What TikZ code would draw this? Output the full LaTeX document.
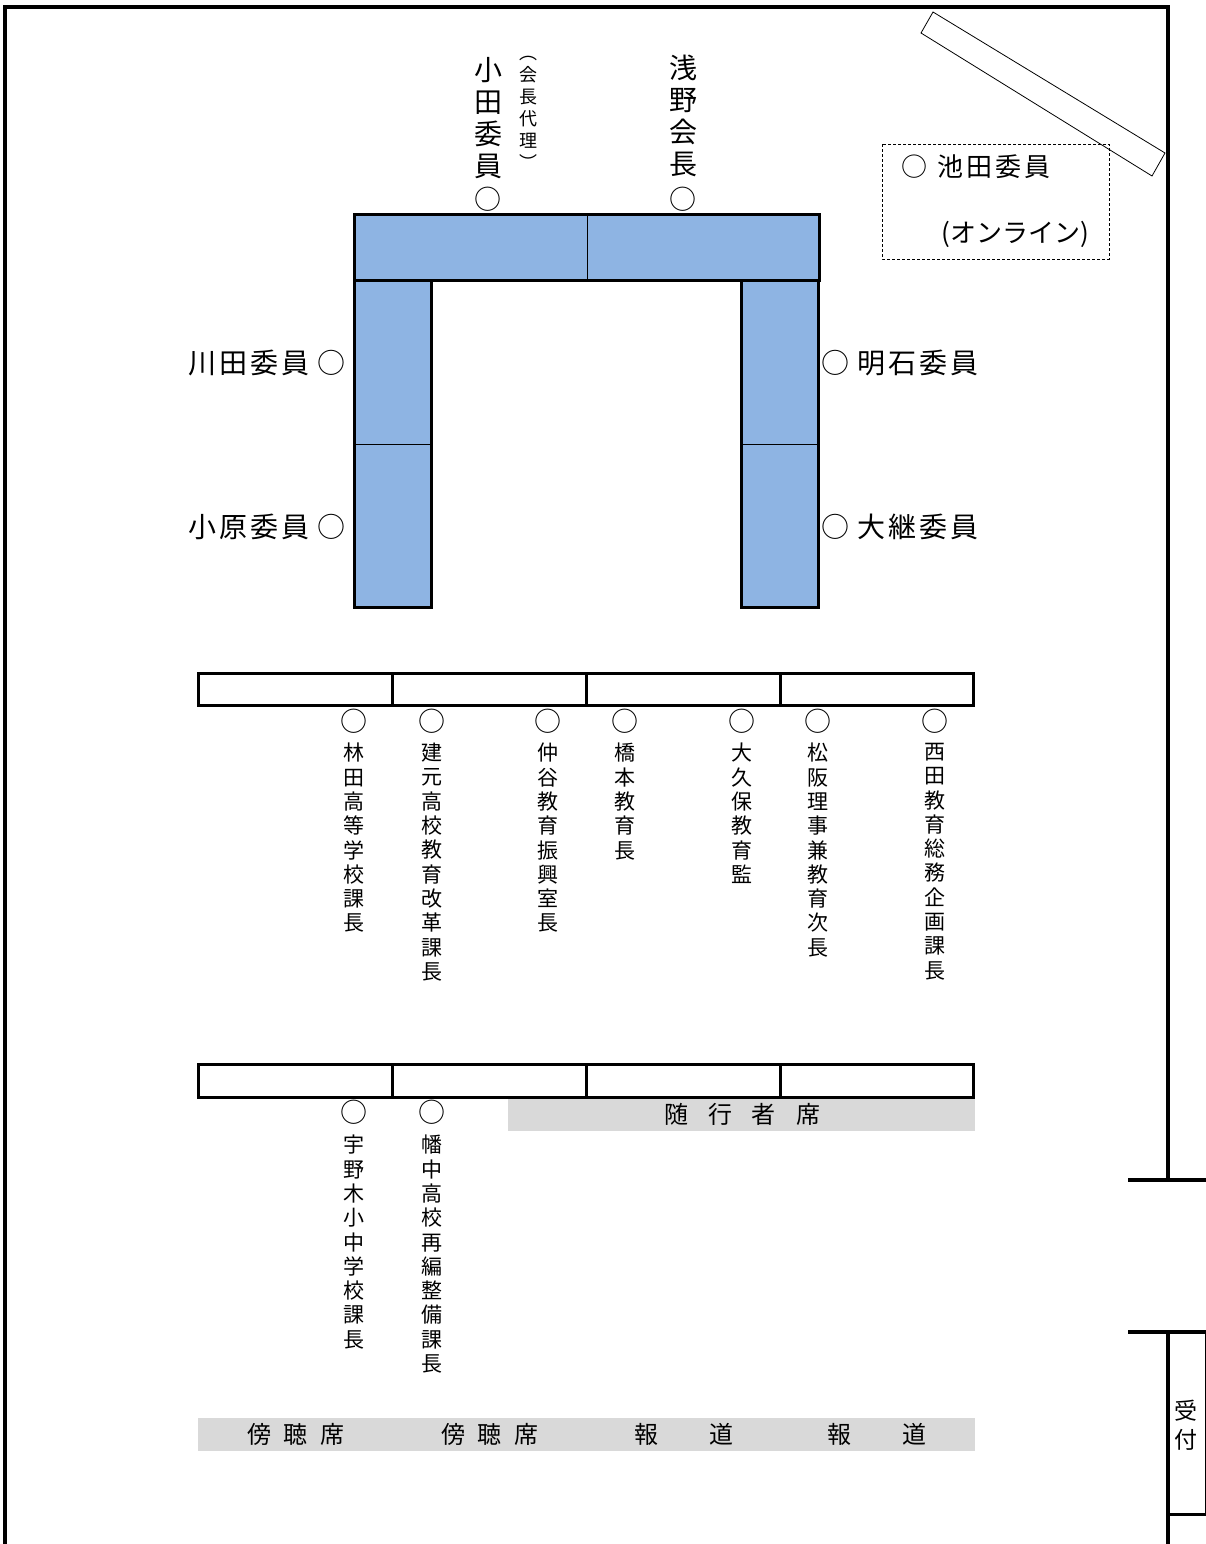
\documentclass[tikz,border=0pt]{standalone}
\usepackage{fontspec}
\setmainfont{Noto Sans CJK JP}
\newcommand\ks{\kern3pt}
\begin{document}
\begin{tikzpicture}[x=1pt,y=-1pt,
  wall/.style={line width=3.6pt},
  thk/.style={line width=3pt},
  thn/.style={line width=0.8pt},
  desk/.style={thk, fill=deskblue},
  bar/.style={fill=barGray, draw=none},
  hlab/.style={inner sep=0pt, font=\fontsize{28}{32}\selectfont},
  toplab/.style={inner sep=0pt, align=center, anchor=north, font=\fontsize{28}{32}\selectfont},
  subtop/.style={inner sep=0pt, align=center, anchor=north, font=\fontsize{18}{22}\selectfont},
  vlab/.style={inner sep=0pt, align=center, anchor=north, font=\fontsize{21}{24.3}\selectfont},
  seat/.style={inner sep=0pt, font=\fontsize{27}{27}\selectfont},
  bartext/.style={inner sep=0pt, font=\fontsize{24}{24}\selectfont}
]
\definecolor{deskblue}{HTML}{8EB4E3}
\definecolor{barGray}{HTML}{D9D9D9}
\useasboundingbox (0,0) rectangle (1206,1544);

% ---- walls ----
\draw[wall] (5,1546) -- (5,7) -- (1168,7) -- (1168,1180);
\draw[wall] (1128,1180) -- (1206,1180);
\draw[wall] (1128,1332) -- (1206,1332);
\draw[wall] (1168,1332) -- (1168,1546);
% reception
\draw[thn] (1205,1332) -- (1205,1514);
\draw[thk] (1168,1514) -- (1206,1514);
\node[inner sep=0pt, align=center, font=\fontsize{23}{29}\selectfont] (uketsuke) at (1186,1425) {受\\付};

% ---- screen (diagonal) ----
\draw[thn] (933,12) -- (1165,153) -- (1152,176) -- (921,33) -- cycle;

% ---- online box ----
\draw[thn, densely dashed] (882,144) rectangle (1109,259);
\node[hlab, anchor=west, font=\fontsize{26}{30}\selectfont] (ikeda) at (901,167) {○\kern10pt 池\ks 田\ks 委\ks 員};
\node[hlab, anchor=west, font=\fontsize{26}{30}\selectfont] (online) at (941,234) {(オンライン)};

% ---- U-shaped table ----
\draw[desk] (354,214) rectangle (819,280);
\draw[desk] (354,280) rectangle (431,607);
\draw[desk] (741,280) rectangle (818,607);
\draw[thn] (587,214) -- (587,280);
\draw[thn] (354,444) -- (431,444);
\draw[thn] (741,444) -- (818,444);

% top seats
\node[toplab] (oda) at (488,57) {小\\田\\委\\員};
\node[seat] (odaseat) at (488,199) {○};
\node[subtop] (dairi) at (528,56) {︵\\会\\長\\代\\理\\︶};
\node[toplab] (asano) at (683,55) {浅\\野\\会\\長};
\node[seat] (asanoseat) at (683,199) {○};

% side seats
\node[hlab, anchor=east] (kawata) at (346,363) {川\ks 田\ks 委\ks 員\kern8pt ○};
\node[hlab, anchor=east] (ohara) at (346,527) {小\ks 原\ks 委\ks 員\kern8pt ○};
\node[hlab, anchor=west] (akashi) at (821,363) {○\kern8pt 明\ks 石\ks 委\ks 員};
\node[hlab, anchor=west] (ootsugi) at (821,527) {○\kern8pt 大\ks 継\ks 委\ks 員};

% ---- row 1 desks ----
\draw[thk] (198,673) rectangle (392,705);
\draw[thk] (392,673) rectangle (586,705);
\draw[thk] (586,673) rectangle (780,705);
\draw[thk] (780,673) rectangle (973,705);

\foreach \n/\x in {s1/354,s2/432,s3/548,s4/625,s5/742,s6/818,s7/935}
  \node[seat] (\n) at (\x,721) {○};
\node[vlab] (hayashida) at (354,743) {林\\田\\高\\等\\学\\校\\課\\長};
\node[vlab] (tatemoto) at (432,743) {建\\元\\高\\校\\教\\育\\改\\革\\課\\長};
\node[vlab] (nakatani) at (548,743) {仲\\谷\\教\\育\\振\\興\\室\\長};
\node[vlab] (hashimoto) at (625,743) {橋\\本\\教\\育\\長};
\node[vlab] (ookubo) at (742,743) {大\\久\\保\\教\\育\\監};
\node[vlab] (matsusaka) at (818,743) {松\\阪\\理\\事\\兼\\教\\育\\次\\長};
\node[vlab] (nishida) at (935,743) {西\\田\\教\\育\\総\\務\\企\\画\\課\\長};

% ---- row 2 desks ----
\draw[thk] (198,1064) rectangle (392,1097);
\draw[thk] (392,1064) rectangle (586,1097);
\draw[thk] (586,1064) rectangle (780,1097);
\draw[thk] (780,1064) rectangle (973,1097);
\fill[bar] (508,1098.5) rectangle (975,1131);
\node[bartext] (zuiko) at (742,1114) {随\kern20pt 行\kern20pt 者\kern20pt 席};

\node[seat] (t1) at (354,1112) {○};
\node[seat] (t2) at (432,1112) {○};
\node[vlab] (unoki) at (354,1135) {宇\\野\\木\\小\\中\\学\\校\\課\\長};
\node[vlab] (hatanaka) at (432,1135) {幡\\中\\高\\校\\再\\編\\整\\備\\課\\長};

% ---- bottom bar ----
\fill[bar] (198,1418) rectangle (975,1451);
\node[bartext] (bo1) at (296,1434) {傍\kern13pt 聴\kern13pt 席};
\node[bartext] (bo2) at (490,1434) {傍\kern13pt 聴\kern13pt 席};
\node[bartext] (ho1) at (684,1434) {報\kern52pt 道};
\node[bartext] (ho2) at (877,1434) {報\kern52pt 道};
\end{tikzpicture}
\end{document}
